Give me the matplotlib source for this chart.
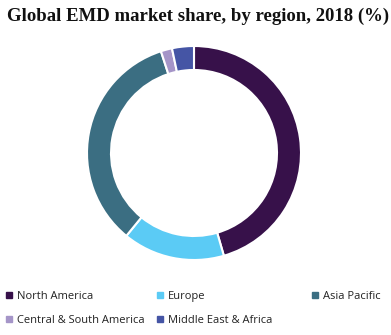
import matplotlib
matplotlib.use("Agg")
import matplotlib.pyplot as plt
from matplotlib.patches import Rectangle

regions = ["North America", "Europe", "Asia Pacific",
           "Central & South America", "Middle East & Africa"]
shares = [45.5, 15.4, 34.1, 1.7, 3.3]
colors = ["#37114A", "#5BCBF5", "#3B6E82", "#A595C8", "#4555A5"]
title = "Global EMD market share, by region, 2018 (%)"

W, H = 391, 335
fig = plt.figure(figsize=(W / 100, H / 100), dpi=100)
ax = fig.add_axes([0, 0, 1, 1])

# donut ring
ax.pie(shares, colors=colors, startangle=90, counterclock=False,
       center=(194, H - 153), radius=107, frame=True,
       wedgeprops=dict(width=24, edgecolor="white", linewidth=1.5))
ax.set_xlim(0, W)
ax.set_ylim(0, H)
ax.set_aspect("equal")
ax.axis("off")

fig.text(7 / W, 1 - 21 / H, title, fontsize=13.5, fontweight="bold",
         family="Liberation Serif", va="baseline", ha="left", color="#111111")

# legend laid out in two rows
slots = [(6, 295), (157, 295), (312, 295), (6, 319), (157, 319)]
for (x, y), name, c in zip(slots, regions, colors):
    ax.add_patch(Rectangle((x, H - y - 3), 6, 6, color=c, clip_on=False))
    ax.text(x + 11, H - y - 4, name, fontsize=8, family="Open Sans",
            va="baseline", ha="left", color="#222222")

fig.savefig("out.png", dpi=100)
